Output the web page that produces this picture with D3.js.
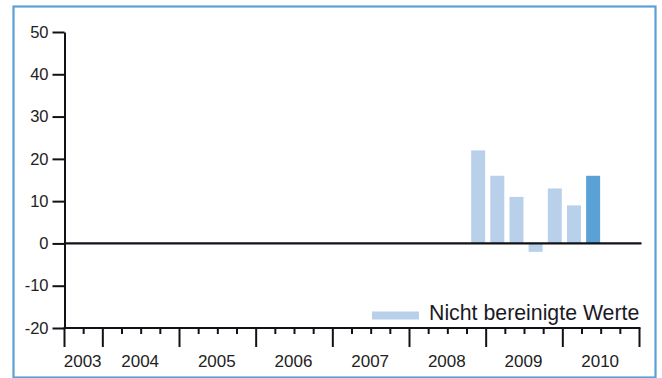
<!DOCTYPE html>
<html>
<head>
<meta charset="utf-8">
<script src="https://cdn.jsdelivr.net/npm/d3@7"></script>
<style>
  html, body { margin: 0; padding: 0; background: #fff; }
  svg { display: block; font-family: "Liberation Sans", Arial, Helvetica, sans-serif; }
</style>
</head>
<body>
<svg id="chart" width="662" height="378"></svg>
<script>
// Years shown on the time axis; the axis starts in the 3rd quarter of the first year
const years = ["2003", "2004", "2005", "2006", "2007", "2008", "2009", "2010"];
const firstQuarter = 3;

// Quarterly changes (in %), non-adjusted values
const barQuarters = ["2008 Q4", "2009 Q1", "2009 Q2", "2009 Q3", "2009 Q4", "2010 Q1", "2010 Q2"];
const barValues = [22, 16, 11, -2, 13, 9, 16];
const latestQuarter = "2010 Q2";

const yTicks = [-20, -10, 0, 10, 20, 30, 40, 50];
const legendLabel = "Nicht bereinigte Werte";

const colors = { bar: "#b9d0ea", latest: "#5aa1d5", axis: "#111118", text: "#222", frame: "#5ba0d7" };

// Build the full list of quarters covered by the axis
const quarters = [];
years.forEach((yr, i) => {
  for (let q = (i === 0 ? firstQuarter : 1); q <= 4; q++) quarters.push(`${yr} Q${q}`);
});

const svg = d3.select("#chart");

// Outer frame
svg.append("rect")
  .attr("x", 13.5).attr("y", 6.5)
  .attr("width", 642).attr("height", 371)
  .attr("fill", "none")
  .attr("stroke", colors.frame)
  .attr("stroke-width", 2.2);

const plot = { left: 64.5, right: 639.5, top: 32, bottom: 328 };

const y = d3.scaleLinear().domain([-20, 50]).range([plot.bottom, plot.top]);
const xIdx = d3.scaleLinear().domain([0, quarters.length]).range([plot.left, plot.right]);
const x = d3.scaleBand().domain(quarters).range([plot.left, plot.right])
  .paddingInner(0.27).paddingOuter(0.135).align(0.8);

// Y axis (plain hyphen for negative labels)
const yAxis = svg.append("g")
  .attr("transform", `translate(${plot.left},0)`)
  .call(d3.axisLeft(y).tickValues(yTicks).tickFormat(d => String(d))
    .tickSize(12).tickPadding(4).tickSizeOuter(0));
yAxis.select(".domain").attr("stroke", colors.axis).attr("stroke-width", 2);
yAxis.selectAll(".tick line").attr("stroke", colors.axis).attr("stroke-width", 2);
yAxis.selectAll(".tick text")
  .attr("fill", colors.text)
  .style("font-size", "16.5px")
  .style("font-family", "'Liberation Sans', Arial, sans-serif");

// Bars
svg.append("g").selectAll("rect")
  .data(barQuarters.map((q, i) => ({ q, v: barValues[i] })))
  .join("rect")
  .attr("x", d => x(d.q))
  .attr("width", x.bandwidth())
  .attr("y", d => y(Math.max(0, d.v)))
  .attr("height", d => Math.abs(y(d.v) - y(0)))
  .attr("fill", d => d.q === latestQuarter ? colors.latest : colors.bar);

// Zero line
svg.append("line")
  .attr("x1", plot.left).attr("x2", plot.right + 2)
  .attr("y1", y(0)).attr("y2", y(0))
  .attr("stroke", colors.axis)
  .attr("stroke-width", 2.3);

// X axis baseline
svg.append("line")
  .attr("x1", plot.left - 1).attr("x2", plot.right + 1)
  .attr("y1", plot.bottom).attr("y2", plot.bottom)
  .attr("stroke", colors.axis)
  .attr("stroke-width", 2);

// Quarter ticks (long at year boundaries)
const boundaries = d3.range(quarters.length + 1);
svg.append("g").selectAll("line")
  .data(boundaries)
  .join("line")
  .attr("x1", i => xIdx(i)).attr("x2", i => xIdx(i))
  .attr("y1", plot.bottom)
  .attr("y2", i => (i === 0 || i === quarters.length || quarters[i].endsWith("Q1")) ? plot.bottom + 19 : plot.bottom + 6)
  .attr("stroke", colors.axis)
  .attr("stroke-width", 2);

// Year labels, centred in each year's span
svg.append("g").selectAll("text")
  .data(years)
  .join("text")
  .attr("x", yr => {
    const qs = quarters.filter(q => q.startsWith(yr));
    const i0 = quarters.indexOf(qs[0]);
    return (xIdx(i0) + xIdx(i0 + qs.length)) / 2 - 1;
  })
  .attr("y", 367)
  .attr("text-anchor", "middle")
  .attr("fill", colors.text)
  .style("font-size", "17px")
  .text(d => d);

// Legend
const legend = svg.append("g");
legend.append("rect")
  .attr("x", 372).attr("y", 311.5)
  .attr("width", 47).attr("height", 8)
  .attr("fill", colors.bar);
legend.append("text")
  .attr("x", 429).attr("y", 320)
  .attr("fill", "#1a1a26")
  .style("font-size", "21.3px")
  .text(legendLabel);
</script>
</body>
</html>
